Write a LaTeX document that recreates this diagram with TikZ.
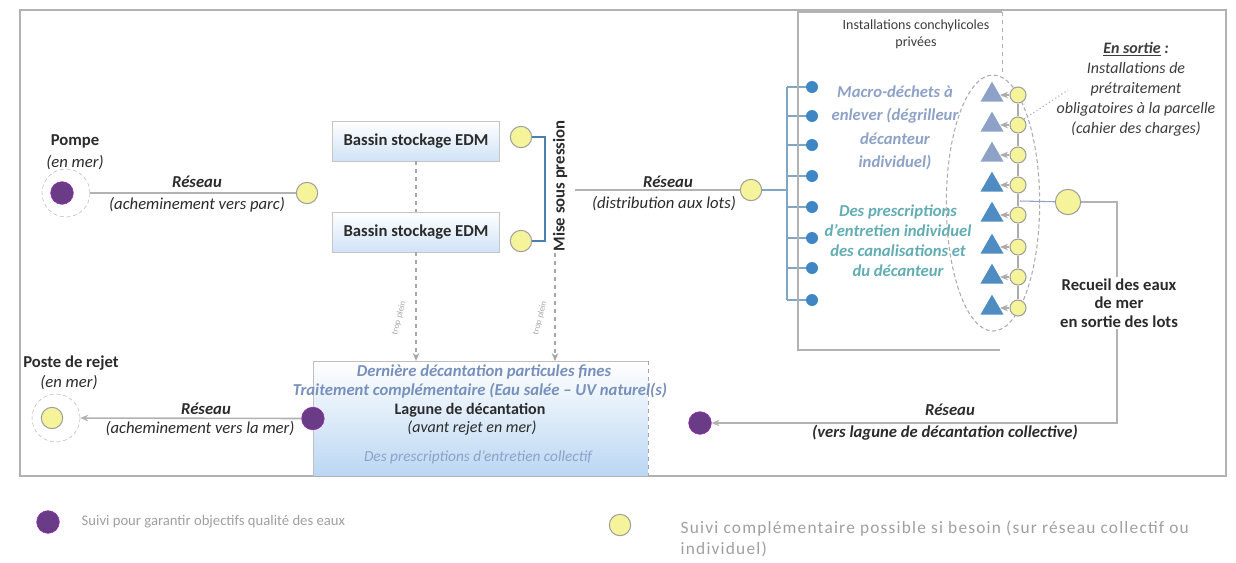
\documentclass[tikz,border=0pt]{standalone}
\usepackage{fontspec}
\setmainfont{Carlito}
\usetikzlibrary{positioning,arrows.meta,shapes.geometric}
\definecolor{suiviviolet}{HTML}{6A3B86}
\definecolor{suivijaune}{HTML}{F6F49A}
\definecolor{bleugris}{HTML}{8DA2C6}
\definecolor{bleutexte}{HTML}{7790BC}
\definecolor{bleupoint}{HTML}{3F86C4}
\definecolor{bleutri}{HTML}{4E8CC2}
\definecolor{bleuvif}{HTML}{4A80AE}
\definecolor{turquoise}{HTML}{62ADB3}
\definecolor{bleulagune}{HTML}{BBD7F3}
\definecolor{texte}{HTML}{2B2B2B}

\begin{document}
\begin{tikzpicture}[x=0.75pt,y=-0.75pt,
		>={Stealth[length=6pt,width=5pt]},
		violet/.style={circle,fill=suiviviolet,draw=suiviviolet!70!magenta,minimum size=17pt,inner sep=0pt},
		jaune/.style={circle,fill=suivijaune,draw=gray!75,thick,minimum size=16pt,inner sep=0pt},
		petitjaune/.style={jaune,minimum size=12pt},
		halo/.style={circle,draw=gray!55,densely dashed,minimum size=36pt,inner sep=0pt},
		point/.style={circle,fill=bleupoint,minimum size=9pt,inner sep=0pt},
		tri/.style={regular polygon,regular polygon sides=3,minimum size=20pt,inner sep=0pt},
		reseau/.style={draw=gray!60,line width=1.2pt},
		bus/.style={draw=bleuvif!70,thick},
		chaine/.style={draw=gray!65,thick},
		trop/.style={draw=gray!70,dashed,thick},
		petit/.style={font=\fontsize{6.5}{7}\selectfont,text=gray!70,rotate=75,inner sep=0pt},
		titre/.style={font=\fontsize{12.5}{14.5}\selectfont\bfseries,text=texte,align=center,inner sep=1pt},
		sous/.style={font=\fontsize{12.5}{14.5}\selectfont\itshape,text=texte,align=center,inner sep=1pt},
		nomres/.style={font=\fontsize{12.5}{14.5}\selectfont\bfseries\itshape,text=texte,inner sep=1pt},
		bassin/.style={rectangle,draw=gray!45,top color=white,bottom color=bleulagune!70,minimum width=125pt,minimum height=30pt,font=\fontsize{12.5}{14.5}\selectfont\bfseries,text=texte},
		legende/.style={text=gray!75,anchor=west,align=left}]
	\useasboundingbox (0,0) rectangle (1236,562);
	\draw[gray!60,line width=1pt] (20,10) rectangle (1226,476);

	% pompe et bassins
	\node[violet] (pompe) at (62,193) {};
	\node[halo] (haloA) at (66,193) {};
	\node[titre] (tpompe) at (75,141) {Pompe};
	\node[sous] at (75,163) {(en mer)};
	\node[jaune] (yA) at (307,193) {};
	\draw[reseau] (haloA) -- (yA);
	\node[nomres] at (197,182) {Réseau};
	\node[sous] at (197,205) {(acheminement vers parc)};

	\node[bassin] (bassinA) at (416,141) {Bassin stockage EDM};
	\draw[trop] (bassinA) -- (416,232);
	\node[bassin] (bassinB) at (416,232) {Bassin stockage EDM};
	\node[jaune] (yB) at (521,137) {};
	\node[jaune] (yC) at (521,241) {};
	\coordinate (crocA) at (545,137);
	\coordinate (crocB) at (545,241);
	\draw[bleuvif,line width=2pt] (yB) -- (crocA) -- (crocB) -- (yC);
	\node[titre,rotate=90] (msp) at (560,186) {Mise sous pression};

	% lagune
	\node[rectangle,top color=white,bottom color=bleulagune,minimum width=251pt,minimum height=86pt] (lagune) at (480.5,418.5) {};
	\draw[gray!50] (lagune.south west) -- (lagune.north west) -- (lagune.north east);
	\draw[trop] (lagune.north east) -- (lagune.south east);
	\draw[trop,->] (bassinB) -- (bassinB |- lagune.north);
	\draw[trop,->] (msp.west -| 555,0) -- (555,361);
	\node[petit] at (399,318) {trop plein};
	\node[petit] at (540,318) {trop plein};
	\node[font=\fontsize{12.5}{14}\selectfont\bfseries\itshape,text=bleutexte,inner sep=1pt] at (484,372) {Dernière décantation particules fines};
	\node[font=\fontsize{12.5}{14}\selectfont\bfseries\itshape,text=bleutexte,inner sep=1pt] at (480,391) {Traitement complémentaire (Eau salée -- UV naturel(s)};
	\node[titre,font=\fontsize{12}{14}\selectfont\bfseries] at (470,410) {Lagune de décantation};
	\node[sous,font=\fontsize{12}{14}\selectfont\itshape] at (472,428) {(avant rejet en mer)};
	\node[font=\fontsize{11.5}{13}\selectfont\itshape,text=bleugris] at (478,457) {Des prescriptions d'entretien collectif};
	\node[violet] (pA) at (lagune.west) {};

	% poste de rejet
	\node[jaune] (yF) at (52,418) {};
	\node[halo] (haloF) at (56,418) {};
	\node[titre] at (71,363) {Poste de rejet};
	\node[sous] at (69,383) {(en mer)};
	\draw[reseau,->] (pA) -- (haloF);
	\node[nomres] at (206,409) {Réseau};
	\node[sous] at (200,429) {(acheminement vers la mer)};

	% distribution aux lots
	\coordinate (depart) at (575,190);
	\node[jaune] (yD) at (751,190) {};
	\draw[reseau] (depart) -- (yD);
	\node[nomres] at (668,182) {Réseau};
	\node[sous] at (664,204) {(distribution aux lots)};
	\coordinate (bus) at (787,190);
	\draw[bus] (yD) -- (bus);
	\foreach \y [count=\i] in {87,116,145,176,207,238,268,300} {
		\node[point] (d\i) at (812,\y) {};
		\draw[bus] (d\i) -- (787,\y);
	}
	\draw[bus] (d1 -| bus) -- (d8 -| bus);

	% installations privees
	\draw[gray!60,thick] (1002,12) -- (798,12) -- (798,350) -- (1000,350);
	\draw[gray!60,dashed] (1002,12) -- (1002,75);
	\node[font=\fontsize{10.5}{12.5}\selectfont,text=gray!20!texte,align=center] at (916,34) {Installations conchylicoles\\privées};
	\node[font=\fontsize{12.5}{17.5}\selectfont\bfseries\itshape,text=bleugris,align=center] at (895,128) {Macro-déchets à\\enlever (dégrilleur\\décanteur\\individuel)};
	\node[font=\fontsize{12.5}{15}\selectfont\bfseries\itshape,text=turquoise,align=center] at (898,241) {Des prescriptions\\d'entretien individuel\\des canalisations et\\du décanteur};
	\draw[gray!65,densely dashed,thick] (993,203) ellipse [x radius=35pt,y radius=96pt];
	\foreach \y/\c [count=\i] in {95/bleugris,125/bleugris,155/bleugris,185/bleutri,215/bleutri,247/bleutri,277/bleutri,308/bleutri} {
		\node[tri,fill=\c] (t\i) at (992,\y) {};
		\node[petitjaune] (s\i) at (1018,\y) {};
		\draw[chaine,->] (s\i) -- (t\i);
	}
	\foreach \a/\b in {1/2,2/3,3/4,4/5,5/6,6/7,7/8}
		\draw[chaine] (s\a) -- (s\b);
	\coordinate (col) at (1020,201);
	\node[jaune,minimum size=19pt] (yE) at (1068,202) {};
	\draw[bleugris,thick] (col) -- (yE);
	\coordinate (fleche) at (1068,90);
	\draw[gray!70,dotted,thick] (s2.north east) -- (fleche);
	\node[font=\fontsize{12}{15}\selectfont\itshape,text=gray!20!texte,align=center] at (1136,89) {\textbf{\underline{En sortie} :}\\Installations de\\prétraitement\\obligatoires à la parcelle\\(cahier des charges)};

	% retour vers la lagune
	\coordinate (coin) at (1117,423);
	\node[violet] (pB) at (700,423) {};
	\draw[reseau,->] (yE) -| (coin) -- (pB);
	\node[titre,fill=white,inner sep=1pt,font=\fontsize{12.5}{14}\selectfont\bfseries] at (1119,303) {Recueil des eaux\\de mer\\en sortie des lots};
	\node[nomres] at (950,410) {Réseau};
	\node[nomres] at (945,433) {(vers lagune de décantation collective)};

	% legende
	\node[violet] (legA) at (48,522) {};
	\node[legende,font=\fontsize{11}{13}\selectfont] at (77,522) {Suivi pour garantir objectifs qualité des eaux};
	\node[jaune] (legB) at (620,525) {};
	\node[legende,font=\fontsize{13}{16}\selectfont\addfontfeature{LetterSpace=7},anchor=north west] at (676,516) {Suivi complémentaire possible si besoin (sur réseau collectif ou\\individuel)};
\end{tikzpicture}
\end{document}
